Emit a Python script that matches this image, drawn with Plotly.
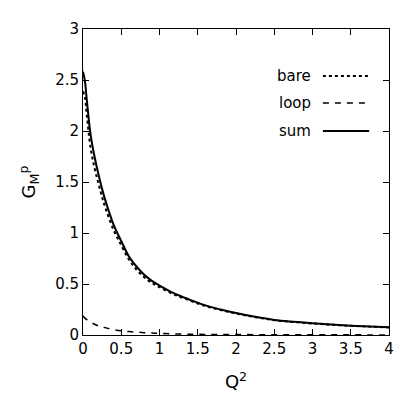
import plotly.graph_objects as go

# Q^2 grid and form factor values
q2 = [0, 0.025, 0.05, 0.1, 0.15, 0.2, 0.25, 0.3, 0.4, 0.5, 0.6, 0.7, 0.8, 0.9,
      1.0, 1.2, 1.4, 1.6, 1.8, 2.0, 2.25, 2.5, 2.75, 3.0, 3.25, 3.5, 3.75, 4.0]
g_sum = [2.58, 2.49, 2.30, 1.96, 1.75, 1.58, 1.43, 1.30, 1.08, 0.92, 0.77, 0.67,
         0.59, 0.53, 0.485, 0.405, 0.345, 0.29, 0.25, 0.215, 0.178, 0.148, 0.13,
         0.115, 0.102, 0.091, 0.083, 0.075]
g_loop = [0.186, 0.165, 0.15, 0.125, 0.105, 0.09, 0.079, 0.07, 0.053, 0.042, 0.034,
          0.028, 0.023, 0.019, 0.016, 0.011, 0.008, 0.006, 0.005, 0.004, 0.0035,
          0.003, 0.0025, 0.002, 0.0018, 0.0015, 0.0012, 0.001]
g_bare = [2.39, 2.33, 2.15, 1.83, 1.64, 1.49, 1.35, 1.23, 1.03, 0.88, 0.74, 0.64,
          0.567, 0.511, 0.469, 0.394, 0.337, 0.284, 0.245, 0.211, 0.175, 0.145,
          0.128, 0.113, 0.1, 0.09, 0.082, 0.074]
# grey uncertainty band around the sum
band_hi = [2.62, 2.53, 2.35, 2.01, 1.80, 1.62, 1.47, 1.34, 1.11, 0.945, 0.79, 0.69,
           0.605, 0.545, 0.497, 0.415, 0.353, 0.297, 0.256, 0.22, 0.182, 0.151,
           0.133, 0.117, 0.104, 0.093, 0.085, 0.077]
band_lo = [2.55, 2.46, 2.27, 1.93, 1.72, 1.55, 1.41, 1.28, 1.06, 0.905, 0.755, 0.655,
           0.578, 0.519, 0.476, 0.397, 0.339, 0.285, 0.246, 0.211, 0.175, 0.146,
           0.128, 0.113, 0.1, 0.089, 0.081, 0.073]

fig = go.Figure()

fig.add_trace(go.Scatter(x=q2, y=band_hi, mode='lines', line=dict(width=0),
                         showlegend=False, hoverinfo='skip'))
fig.add_trace(go.Scatter(x=q2, y=band_lo, mode='lines', line=dict(width=0),
                         fill='tonexty', fillcolor='rgba(170,170,170,0.5)',
                         showlegend=False, hoverinfo='skip'))
fig.add_trace(go.Scatter(x=q2, y=g_bare, mode='lines', name='bare',
                         line=dict(color='black', width=2, dash='dot', shape='spline')))
fig.add_trace(go.Scatter(x=q2, y=g_loop, mode='lines', name='loop',
                         line=dict(color='black', width=1.5, dash='6px,6px', shape='spline')))
fig.add_trace(go.Scatter(x=q2, y=g_sum, mode='lines', name='sum',
                         line=dict(color='black', width=2, shape='spline')))

# gnuplot-style legend: text on the left, line sample on the right
legend_rows = [('bare', 'dot', 2, 0.846), ('loop', '6px,6px', 1.5, 0.758), ('sum', 'solid', 2, 0.667)]
for label, dash, w, yp in legend_rows:
    fig.add_annotation(x=0.752, y=yp, xref='paper', yref='paper', text=label,
                       showarrow=False, xanchor='right', yanchor='middle',
                       font=dict(size=15, color='black'))
    fig.add_shape(type='line', xref='paper', yref='paper', x0=0.784, x1=0.935,
                  y0=yp, y1=yp, line=dict(color='black', width=w, dash=dash))

axis_style = dict(showline=True, linecolor='black', linewidth=1, mirror='ticks',
                  ticks='inside', ticklen=6, tickcolor='black', showgrid=False,
                  zeroline=False, automargin=False, tickfont=dict(size=15, color='black'))

# the page body adds an 8px offset, so the figure is a bit smaller than the window
fig.update_layout(
    width=411, height=411,
    margin=dict(l=75, r=30, t=21, b=84),
    plot_bgcolor='white', paper_bgcolor='white',
    font=dict(family='DejaVu Sans', size=15, color='black'),
    showlegend=False,
    xaxis=dict(range=[0, 4], dtick=0.5, title=dict(text='Q<sup>2</sup>', standoff=18), **axis_style),
    yaxis=dict(range=[0, 3], dtick=0.5, title=dict(text='G<sub>M</sub><sup>p</sup>', standoff=14), **axis_style),
)

fig.write_html("out.html")
